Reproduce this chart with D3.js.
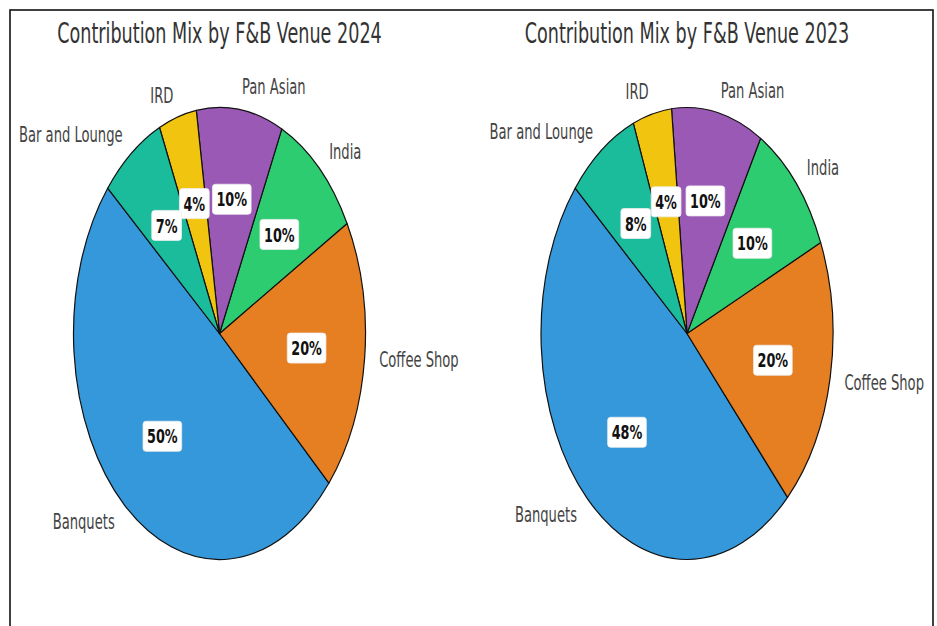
<!DOCTYPE html>
<html>
<head>
<meta charset="utf-8">
<script src="https://cdn.jsdelivr.net/npm/d3@7"></script>
<style>
  html, body { margin: 0; padding: 0; background: #fff; }
  svg { display: block; }
</style>
</head>
<body>
<svg id="chart" width="937" height="626"></svg>
<script>
// ---- data ----
const venues = ["Banquets", "Coffee Shop", "India", "Pan Asian", "IRD", "Bar and Lounge"];
const values2024 = [49.6, 19.6, 9.9, 9.55, 4.2, 7.15];
const values2023 = [48.2, 19.5, 10.0, 10.1, 4.3, 7.9];
const colors = ["#3498db", "#e67e22", "#2ecc71", "#9b59b6", "#f1c40f", "#1abc9c"];
const titles = ["Contribution Mix by F&B Venue 2024", "Contribution Mix by F&B Venue 2023"];

// ---- layout ----
const svg = d3.select("#chart");
const SX = 0.64;            // horizontal text compression seen in the reference
const RX = 146, RY = 226;   // elliptical pie radii
const panels = [
  { cx: 219.5, cy: 333.5, values: values2024, title: titles[0] },
  { cx: 687,   cy: 333.5, values: values2023, title: titles[1] }
];

// frame
svg.append("rect")
  .attr("x", 10).attr("y", 10).attr("width", 923).attr("height", 700)
  .attr("fill", "none").attr("stroke", "#111").attr("stroke-width", 1.6);

const color = d3.scaleOrdinal().domain(venues).range(colors);

// matplotlib startangle=140 counter-clockwise -> d3 angles (0 at top, clockwise)
const toRad = d => d * Math.PI / 180;
const pie = d3.pie()
  .sort(null)
  .value(d => d.value)
  .startAngle(toRad(90 - 140))
  .endAngle(toRad(90 - 140 - 360));

const arc = d3.arc().innerRadius(0).outerRadius(RY);

panels.forEach(p => {
  const data = venues.map((v, i) => ({ name: v, value: p.values[i] }));
  const total = d3.sum(data, d => d.value);
  const arcs = pie(data);
  const g = svg.append("g");

  // title
  g.append("text")
    .attr("transform", `translate(${p.cx},43) scale(${SX},1)`)
    .attr("text-anchor", "middle")
    .attr("font-family", "DejaVu Sans")
    .attr("font-size", 27.5)
    .attr("fill", "#333")
    .text(p.title);

  // slices (circle scaled into ellipse)
  const pg = g.append("g")
    .attr("transform", `translate(${p.cx},${p.cy}) scale(${RX / RY},1)`);
  pg.selectAll("path").data(arcs).enter().append("path")
    .attr("d", arc)
    .attr("fill", d => color(d.data.name))
    .attr("stroke", "#111")
    .attr("stroke-width", 1.2)
    .attr("stroke-linejoin", "round")
    .attr("vector-effect", "non-scaling-stroke");

  const pos = (d, k) => {
    const a = (d.startAngle + d.endAngle) / 2;
    return [p.cx + Math.sin(a) * RX * k, p.cy - Math.cos(a) * RY * k, Math.sin(a)];
  };

  // category labels
  arcs.forEach(d => {
    const [x, y, s] = pos(d, 1.1);
    g.append("text")
      .attr("transform", `translate(${x},${y}) scale(${SX},1)`)
      .attr("text-anchor", s < 0 ? "end" : "start")
      .attr("dominant-baseline", "central")
      .attr("font-family", "DejaVu Sans")
      .attr("font-size", 20.5)
      .attr("fill", "#444")
      .text(d.data.name);
  });

  // percentage labels with white boxes
  arcs.forEach(d => {
    const [x, y] = pos(d, 0.6);
    const lg = g.append("g").attr("transform", `translate(${x},${y})`);
    const box = lg.append("rect");
    const t = lg.append("text")
      .attr("transform", `scale(${SX},1)`)
      .attr("text-anchor", "middle")
      .attr("dominant-baseline", "central")
      .attr("font-family", "DejaVu Sans")
      .attr("font-weight", "bold")
      .attr("font-size", 20)
      .attr("fill", "#111")
      .text(Math.round(d.data.value / total * 100) + "%");
    const w = t.node().getComputedTextLength() * SX + 8;
    const h = 30;
    box.attr("x", -w / 2).attr("y", -h / 2).attr("width", w).attr("height", h)
      .attr("rx", 3).attr("ry", 3)
      .attr("fill", "#fff").attr("stroke", "#eee").attr("stroke-width", 0.8);
  });
});
</script>
</body>
</html>
